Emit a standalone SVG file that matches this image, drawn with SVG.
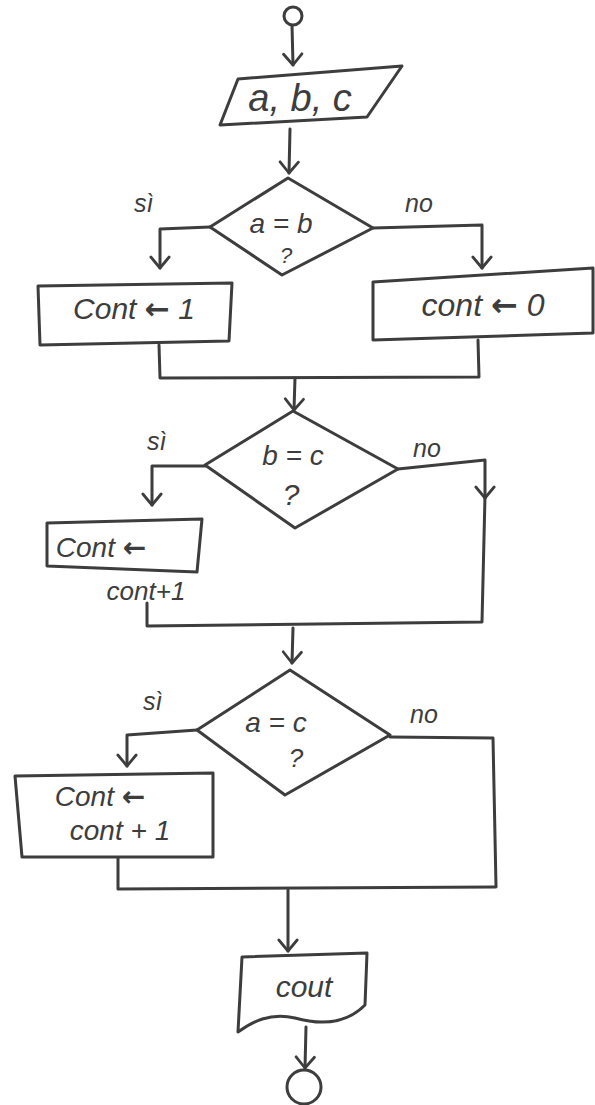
<svg xmlns="http://www.w3.org/2000/svg" width="595" height="1105" viewBox="0 0 595 1105">
<defs>
<style>
.s{fill:none;stroke:#3d3d3d;stroke-width:3;stroke-linejoin:round;stroke-linecap:round}
.n{fill:#fff;stroke:#3d3d3d;stroke-width:3;stroke-linejoin:round;stroke-linecap:round}
.t{font-family:"Liberation Sans","DejaVu Sans",sans-serif;font-style:italic;fill:#3d3d3d;text-anchor:middle}
.l{font-family:"Liberation Sans","DejaVu Sans",sans-serif;font-style:italic;fill:#3d3d3d;font-size:25px}
.a{font-family:"DejaVu Sans",sans-serif;font-style:normal;font-weight:bold}
</style>
<marker id="ah" viewBox="0 0 24 24" refX="21" refY="12" markerWidth="22" markerHeight="22" markerUnits="userSpaceOnUse" orient="auto">
<path d="M9,2 L21,12 L9,22" fill="none" stroke="#3d3d3d" stroke-width="3" stroke-linecap="round" stroke-linejoin="round"/>
</marker>
</defs>
<rect width="595" height="1105" fill="#fff"/>
<g id="connectors">
<path class="s" d="M292,25 L293,65" marker-end="url(#ah)"/>
<path class="s" d="M290,129 L289,173" marker-end="url(#ah)"/>
<path class="s" d="M210,227 L160,229 L160,268" marker-end="url(#ah)"/>
<path class="s" d="M373,228 L482,225 L482,268" marker-end="url(#ah)"/>
<path class="s" d="M159,345 L160,378 L479,377 L478,340"/>
<path class="s" d="M295,378 L294,410" marker-end="url(#ah)"/>
<path class="s" d="M205,466 L152,466 L152,505" marker-end="url(#ah)"/>
<path class="s" d="M398,469 L485,460 L485,498" marker-end="url(#ah)"/>
<path class="s" d="M485,496 L482,622 L147,626 L147,603"/>
<path class="s" d="M293,628 L292,663" marker-end="url(#ah)"/>
<path class="s" d="M197,730 L127,735 L127,766" marker-end="url(#ah)"/>
<path class="s" d="M390,737 L493,738 L496,886"/>
<path class="s" d="M118,858 L118,889 L496,887"/>
<path class="s" d="M288,890 L288,951" marker-end="url(#ah)"/>
<path class="s" d="M306,1027 L305,1068" marker-end="url(#ah)"/>
</g>
<g id="start">
<circle class="n" cx="293" cy="16" r="9"/>
</g>
<g id="input">
<polygon class="n" points="238,79 402,66 367,117 220,125"/>
<text class="t" x="300" y="111" font-size="38">a, b, c</text>
</g>
<g id="dec1">
<polygon class="n" points="288,178 373,228 282,275 210,227"/>
<text class="t" x="281" y="233" font-size="28">a = b</text>
<text class="t" x="286" y="263" font-size="22">?</text>
<text class="l" x="134" y="212">sì</text>
<text class="l" x="405" y="212">no</text>
</g>
<g id="set1">
<polygon class="n" points="38,286 232,283 229,341 40,345"/>
<text class="t" x="134" y="319" font-size="30">Cont <tspan class="a">←</tspan> 1</text>
</g>
<g id="set0">
<polygon class="n" points="373,282 593,268 593,333 373,340"/>
<text class="t" x="483" y="316" font-size="32">cont <tspan class="a">←</tspan> 0</text>
</g>
<g id="dec2">
<polygon class="n" points="293,411 398,469 295,528 205,465"/>
<text class="t" x="293" y="465" font-size="28">b = c</text>
<text class="t" x="291" y="505" font-size="30">?</text>
<text class="l" x="147" y="450">sì</text>
<text class="l" x="413" y="457">no</text>
</g>
<g id="inc1">
<polygon class="n" points="47,523 202,519 197,572 47,566"/>
<text class="t" x="101" y="557" font-size="28">Cont <tspan class="a">←</tspan></text>
<text class="t" x="146" y="600" font-size="26">cont+1</text>
</g>
<g id="dec3">
<polygon class="n" points="290,670 390,735 285,795 197,730"/>
<text class="t" x="276" y="732" font-size="28">a = c</text>
<text class="t" x="296" y="767" font-size="26">?</text>
<text class="l" x="143" y="710">sì</text>
<text class="l" x="410" y="723">no</text>
</g>
<g id="inc2">
<polygon class="n" points="15,776 213,773 213,857 22,857"/>
<text class="t" x="100" y="806" font-size="28">Cont <tspan class="a">←</tspan></text>
<text class="t" x="120" y="840" font-size="28">cont + 1</text>
</g>
<g id="output">
<path class="n" d="M242,957 L367,953 L365,1005 C345,1025 320,1025 295,1018 C270,1012 252,1022 238,1032 Z"/>
<text class="t" x="304" y="997" font-size="30">cout</text>
</g>
<g id="end">
<circle class="n" cx="304" cy="1087" r="17"/>
</g>
</svg>
